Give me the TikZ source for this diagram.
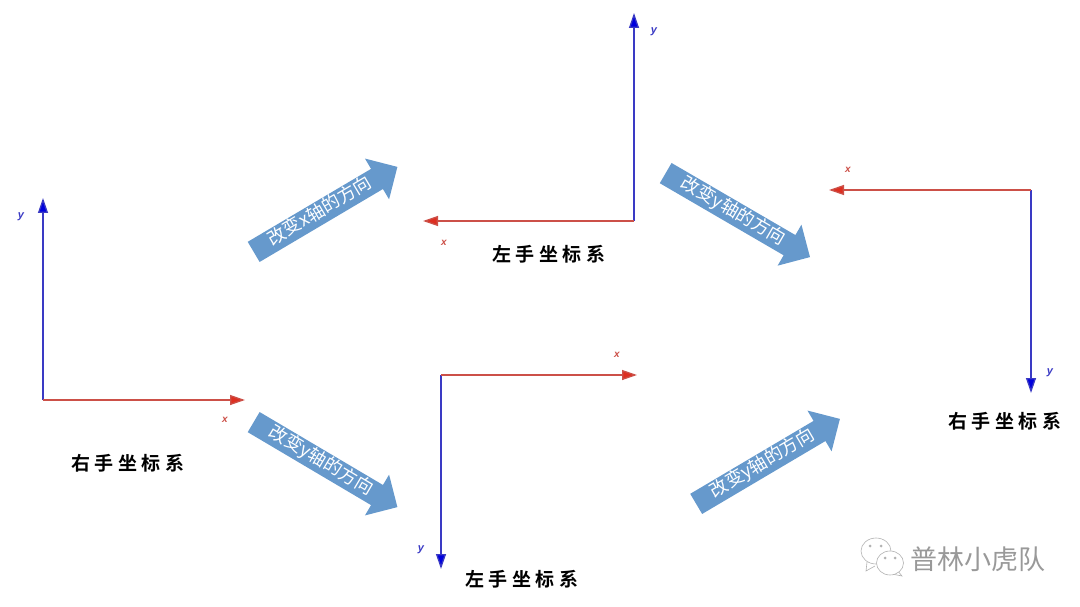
\documentclass[tikz,border=0pt]{standalone}
\usepackage{fontspec}
\usepackage{tikz}
\usetikzlibrary{arrows.meta,shapes.arrows}
\setsansfont{Liberation Sans}
\newfontfamily\cjk{Noto Sans CJK SC}
\newfontfamily\cjkbold{Noto Sans CJK SC Bold}
\definecolor{axisblue}{HTML}{3A3AC4}
\definecolor{axisred}{HTML}{CC5048}
\definecolor{tipblue}{HTML}{0000DD}
\definecolor{tipred}{HTML}{DD2E20}
\definecolor{blockblue}{HTML}{6699CC}
\tikzset{
	xaxis/.style={draw=axisred, line width=1.3pt, -{Stealth[length=15pt,width=10pt,inset=0pt,fill=tipred]}},
	yaxis/.style={draw=axisblue, line width=1.3pt, -{Stealth[length=15pt,width=10pt,inset=0pt,fill=tipblue]}},
	xlabel/.style={text=axisred, font=\sffamily\bfseries\itshape\fontsize{10}{10}\selectfont, inner sep=0pt},
	ylabel/.style={text=axisblue, font=\sffamily\bfseries\itshape\fontsize{11}{11}\selectfont, inner sep=0pt},
	title/.style={font=\cjkbold\fontsize{19}{19}\selectfont, inner sep=0pt},
	blockarrow/.style={single arrow, fill=blockblue, anchor=tail, text=white,
		font=\cjk\fontsize{18}{18}\selectfont, text height=12pt, text depth=3pt,
		inner ysep=4pt, inner xsep=0pt, minimum height=167pt,
		single arrow head extend=12pt, single arrow tip angle=90},
	bubble/.style={draw=black!30, fill=white, line width=0.6pt},
}
\newcommand{\gapped}{\hspace{4.5pt}}
\begin{document}
\begin{tikzpicture}[x=1pt,y=-1pt]
	\useasboundingbox (0,0) rectangle (1080,607);
	% left frame
	\coordinate (o1) at (43,400);
	\coordinate (x1) at (245,400);
	\coordinate (y1) at (43,198);
	\draw[yaxis] (o1) -- (y1);
	\draw[xaxis] (o1) -- (x1);
	\node[ylabel] (ly1) at (21,217) {y};
	\node[xlabel] (lx1) at (225,420) {x};
	\node[title] (t1) at (128,463) {右\gapped 手\gapped 坐\gapped 标\gapped 系};
	% top frame
	\coordinate (o2) at (634,221);
	\coordinate (x2) at (423,221);
	\coordinate (y2) at (634,13);
	\draw[yaxis] (o2) -- (y2);
	\draw[xaxis] (o2) -- (x2);
	\node[ylabel] (ly2) at (654,32) {y};
	\node[xlabel] (lx2) at (444,243) {x};
	\node[title] (t2) at (549,254) {左\gapped 手\gapped 坐\gapped 标\gapped 系};
	% bottom frame
	\coordinate (o3) at (441,375);
	\coordinate (x3) at (637,375);
	\coordinate (y3) at (441,569);
	\draw[yaxis] (o3) -- (y3);
	\draw[xaxis] (o3) -- (x3);
	\node[ylabel] (ly3) at (421,550) {y};
	\node[xlabel] (lx3) at (617,355) {x};
	\node[title] (t3) at (522,579) {左\gapped 手\gapped 坐\gapped 标\gapped 系};
	% right frame
	\coordinate (o4) at (1031,190);
	\coordinate (x4) at (829,190);
	\coordinate (y4) at (1031,393);
	\draw[yaxis] (o4) -- (y4);
	\draw[xaxis] (o4) -- (x4);
	\node[ylabel] (ly4) at (1050,373) {y};
	\node[xlabel] (lx4) at (848,170) {x};
	\node[title] (t4) at (1005,421) {右\gapped 手\gapped 坐\gapped 标\gapped 系};
	% block arrows
	\node[blockarrow, rotate=30.6] (a1) at (253.5,252) {改变x轴的方向};
	\node[blockarrow, rotate=-30.6] (a2) at (253.5,422) {改变y轴的方向};
	\node[blockarrow, rotate=-30.2] (a3) at (665.5,173) {改变y轴的方向};
	\node[blockarrow, rotate=30.6] (a4) at (696,504) {改变y轴的方向};
	% watermark
	\node[font=\cjk\fontsize{27}{27}\selectfont, text=black!40, inner sep=0pt] (mark) at (978,559) {普林小虎队};
	\draw[bubble] (867,562) -- (866,571) -- (875,566);
	\draw[bubble] (876,551) ellipse (15 and 13);
	\draw[bubble] (897,570) -- (902,576) -- (892,574);
	\draw[bubble] (890,563) ellipse (13.5 and 12);
	\fill[black!30] (870,546) circle (1.5) (881,546) circle (1.5) (885,558) circle (1.5) (895,558) circle (1.5);
\end{tikzpicture}
\end{document}
